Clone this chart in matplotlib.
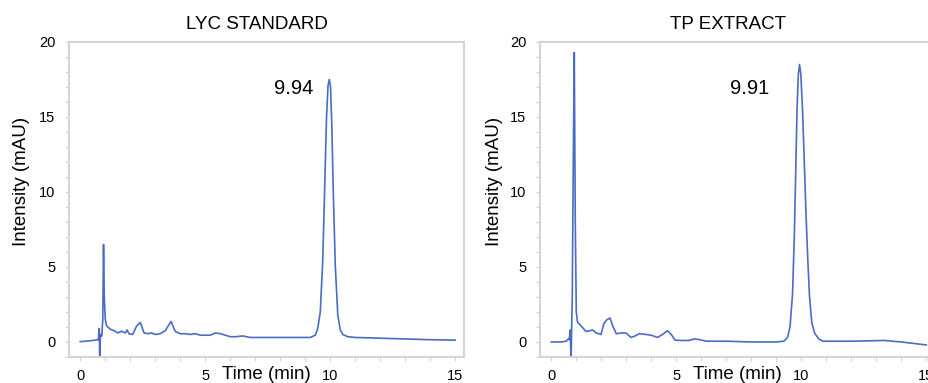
import matplotlib.pyplot as plt
from matplotlib.ticker import MultipleLocator

plt.rcParams['font.family'] = ['Liberation Sans', 'DejaVu Sans']

# LYC standard chromatogram (time in min, intensity in mAU)
lyc_time = [0.0, 0.2, 0.4, 0.6, 0.72, 0.76, 0.78, 0.80, 0.82, 0.86, 0.90, 0.93, 0.96,
            1.0, 1.05, 1.1, 1.2, 1.35, 1.5, 1.65, 1.8, 1.87, 1.95, 2.1, 2.25, 2.4, 2.55,
            2.7, 2.85, 3.0, 3.2, 3.4, 3.63, 3.8, 4.0, 4.2, 4.4, 4.6, 4.8, 5.0, 5.2,
            5.4, 5.6, 5.8, 6.0, 6.2, 6.5, 6.8, 7.5, 8.5, 9.2, 9.4, 9.5, 9.6, 9.7,
            9.78, 9.85, 9.91, 9.96, 10.01, 10.06, 10.12, 10.2, 10.3, 10.4, 10.5, 10.7,
            11.0, 12.0, 13.0, 14.0, 15.0]
lyc_int = [0.02, 0.05, 0.08, 0.12, 0.15, 0.9, -1.5, 0.2, 0.5, 0.4, 1.5, 6.5, 3.0,
           1.5, 1.1, 1.0, 0.85, 0.75, 0.6, 0.72, 0.6, 0.8, 0.55, 0.5, 1.05, 1.3, 0.6,
           0.55, 0.6, 0.5, 0.55, 0.75, 1.37, 0.7, 0.55, 0.55, 0.5, 0.55, 0.45, 0.45, 0.45,
           0.6, 0.55, 0.45, 0.35, 0.35, 0.4, 0.3, 0.3, 0.3, 0.3, 0.45, 0.9, 2.0, 5.5,
           10.5, 15.0, 17.1, 17.5, 17.0, 14.5, 10.0, 5.1, 1.8, 0.8, 0.5, 0.35,
           0.3, 0.25, 0.2, 0.15, 0.12]

# TP extract chromatogram
tp_time = [0.0, 0.2, 0.4, 0.6, 0.68, 0.72, 0.76, 0.79, 0.81, 0.84, 0.88, 0.92, 0.96,
           1.0, 1.05, 1.2, 1.39, 1.55, 1.65, 1.8, 1.99, 2.1, 2.2, 2.35, 2.45, 2.6,
           2.8, 2.99, 3.19, 3.35, 3.52, 3.8, 4.0, 4.25, 4.45, 4.65, 4.8, 4.95, 5.2,
           5.5, 5.72, 5.95, 6.2, 7.0, 8.0, 9.0, 9.3, 9.45, 9.55, 9.65, 9.72, 9.78,
           9.83, 9.88, 9.93, 9.98, 10.05, 10.12, 10.19, 10.26, 10.33, 10.42, 10.53, 10.7,
           10.87, 11.5, 12.0, 13.3, 14.0, 15.0]
tp_int = [0.0, 0.0, 0.0, 0.05, 0.2, 0.15, 0.8, -1.5, 0.5, 3.0, 12.0, 19.3, 8.0,
          2.0, 1.33, 1.05, 0.7, 0.75, 0.8, 0.6, 0.5, 1.2, 1.45, 1.6, 1.1, 0.55,
          0.6, 0.6, 0.3, 0.4, 0.55, 0.5, 0.45, 0.3, 0.5, 0.75, 0.5, 0.12, 0.1,
          0.1, 0.2, 0.15, 0.05, 0.05, 0.0, 0.0, 0.05, 0.3, 1.0, 3.2, 7.0, 11.5,
          15.5, 17.8, 18.5, 17.9, 15.5, 12.0, 8.5, 5.5, 3.0, 1.3, 0.6, 0.2,
          0.05, 0.05, 0.05, 0.1, 0.0, -0.2]

titles = ["LYC STANDARD", "TP EXTRACT"]
rt_labels = ["9.94", "9.91"]

line_color = "#4a6cc4"
spine_color = "#d4d4d4"

fig = plt.figure(figsize=(9.29, 3.83), dpi=100)
axes = [fig.add_axes([0.0743, 0.068, 0.4252, 0.8224]),
        fig.add_axes([0.5813, 0.068, 0.4252, 0.8224])]

series = [(lyc_time, lyc_int), (tp_time, tp_int)]
label_x = [8.52, 7.92]
ylab_x = [-0.099, -0.094]

for i, ax in enumerate(axes):
    t, y = series[i]
    ax.plot(t, y, color=line_color, lw=1.2)
    ax.set_xlim(-0.45, 15.35)
    ax.set_ylim(-1, 20)
    ax.xaxis.set_major_locator(MultipleLocator(5))
    ax.xaxis.set_minor_locator(MultipleLocator(1))
    ax.yaxis.set_major_locator(MultipleLocator(5))
    ax.yaxis.set_minor_locator(MultipleLocator(1))
    for s in ax.spines.values():
        s.set_color(spine_color)
        s.set_linewidth(1.5)
    ax.tick_params(which="both", color=spine_color, length=3, width=0.8)
    ax.tick_params(axis="x", which="major", pad=6, labelsize=10.5)
    ax.tick_params(axis="y", which="major", pad=7, labelsize=10.5)
    ax.text(0.476, 1.057, titles[i], transform=ax.transAxes, ha="center",
            va="center", fontsize=13.5)
    ax.text(label_x[i], 16.9, rt_labels[i], ha="center", va="center", fontsize=14.5)
    ax.set_xlabel("Time (min)", fontsize=13.5)
    ax.xaxis.set_label_coords(0.50, -0.03)
    ax.set_ylabel("Intensity (mAU)", fontsize=13.5)
    ax.yaxis.set_label_coords(ylab_x[i], 0.556)

fig.savefig("out.png", dpi=100)
